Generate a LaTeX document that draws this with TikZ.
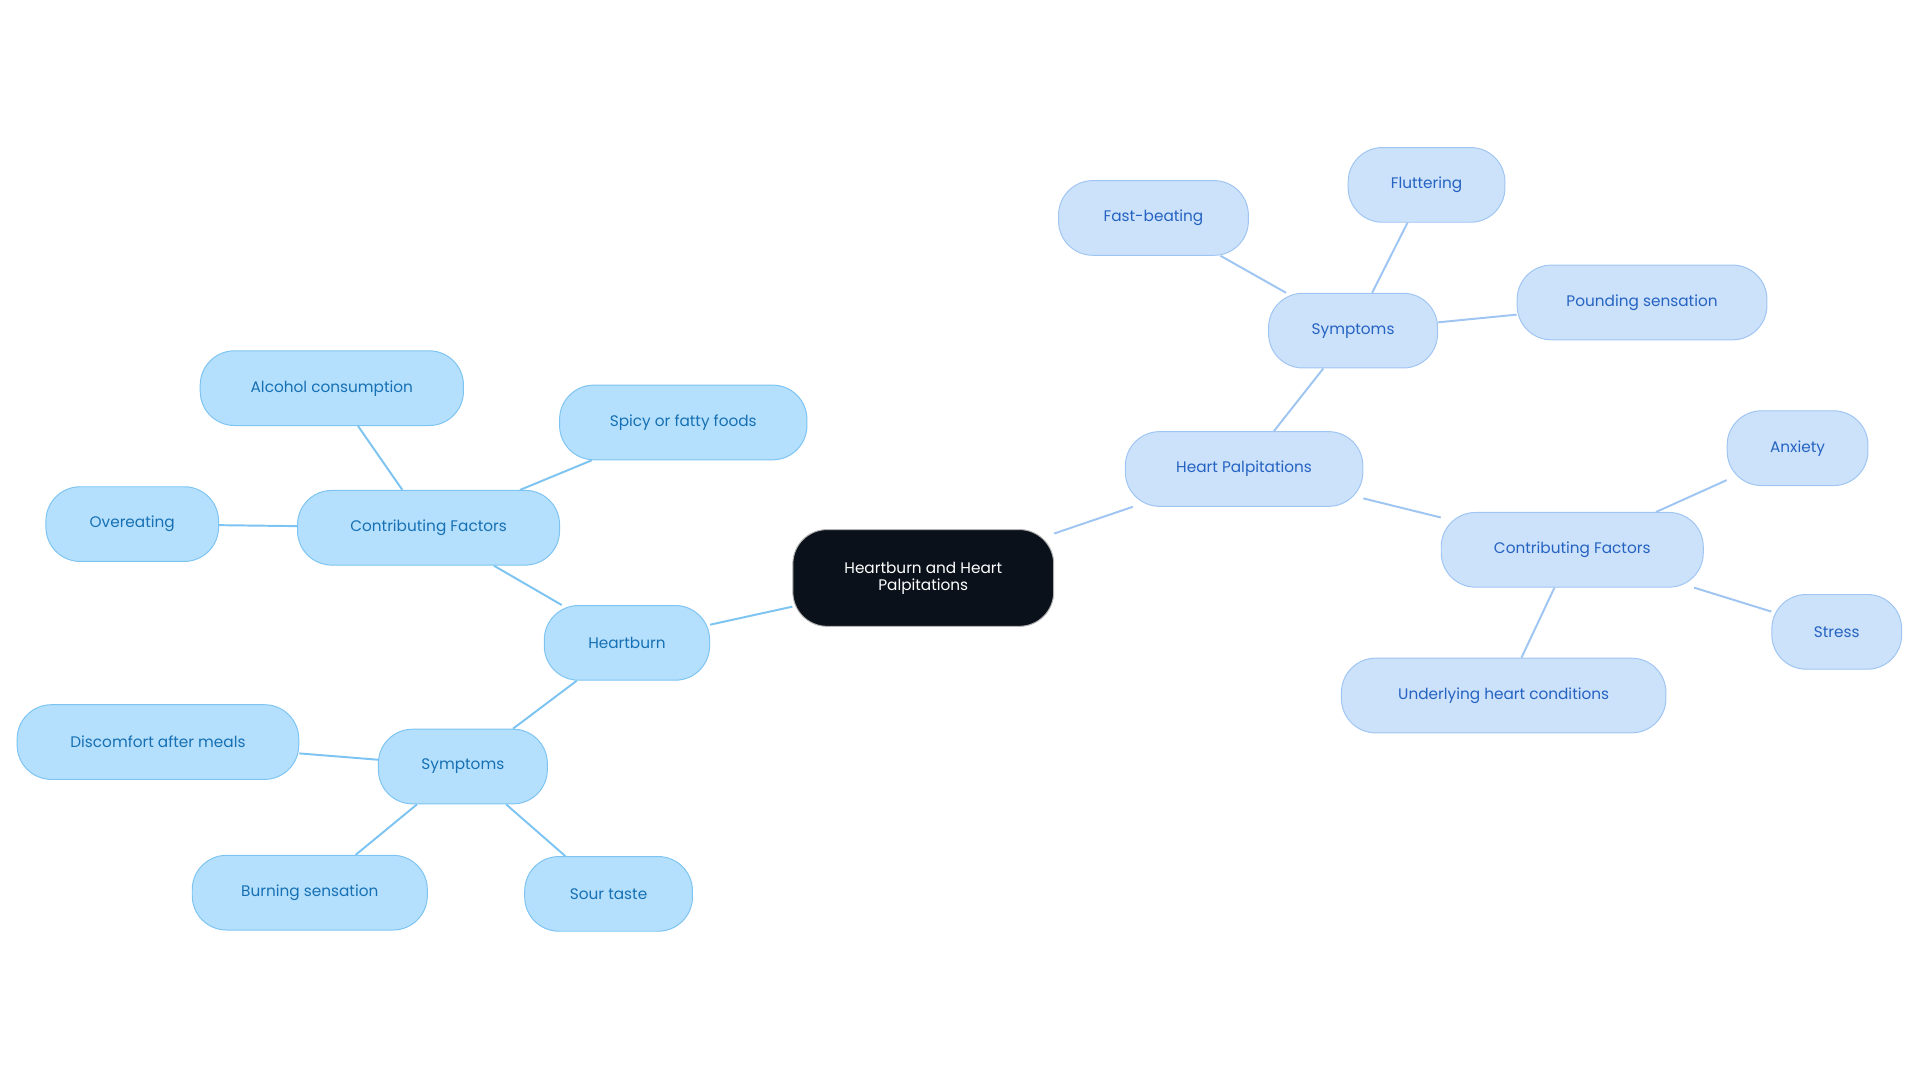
\documentclass[tikz,border=0pt]{standalone}
\usepackage{fontspec}
\setmainfont{Poppins}
\pgfdeclarelayer{bg}\pgfsetlayers{bg,main}
\definecolor{lf}{HTML}{B5E0FD}\definecolor{lb}{HTML}{7DC4F2}\definecolor{lt}{HTML}{1670B3}
\definecolor{rf}{HTML}{CCE1FA}\definecolor{rb}{HTML}{9FC5F2}\definecolor{rt}{HTML}{2563C2}
\definecolor{cf}{HTML}{0B111B}
\tikzset{
 base/.style={rounded corners=28pt,minimum height=61pt,inner xsep=4pt,font=\fontsize{12.5}{15}\selectfont,line width=0.8pt},
 lnode/.style={base,fill=lf,draw=lb,text=lt},
 rnode/.style={base,fill=rf,draw=rb,text=rt},
 cnode/.style={base,fill=cf,draw=gray!60,text=white,minimum height=79pt,minimum width=213pt,align=center,font=\fontsize{12.5}{14}\selectfont},
 le/.style={draw=lb,line width=1.6pt},
 re/.style={draw=rb,line width=1.6pt}}
\begin{document}
\begin{tikzpicture}[x=1pt,y=-1pt]
\useasboundingbox (0,0) rectangle (1568,884);
\node[cnode] (c) at (754,472) {Heartburn and Heart\\Palpitations};
\node[lnode,minimum width=135pt] (hb) at (512,525) {Heartburn};
\node[lnode,minimum width=214pt] (cfl) at (350,431) {Contributing Factors};
\node[lnode,minimum width=202pt] (sp) at (558,345) {Spicy or fatty foods};
\node[lnode,minimum width=215pt] (al) at (271,317) {Alcohol consumption};
\node[lnode,minimum width=141pt] (ov) at (108,428) {Overeating};
\node[lnode,minimum width=138pt] (syl) at (378,626) {Symptoms};
\node[lnode,minimum width=230pt] (di) at (129,606) {Discomfort after meals};
\node[lnode,minimum width=192pt] (bu) at (253,729) {Burning sensation};
\node[lnode,minimum width=137pt] (so) at (497,730) {Sour taste};
\node[rnode,minimum width=194pt] (hp) at (1016,383) {Heart Palpitations};
\node[rnode,minimum width=138pt] (syr) at (1105,270) {Symptoms};
\node[rnode,minimum width=155pt] (fa) at (942,178) {Fast-beating};
\node[rnode,minimum width=128pt] (fl) at (1165,151) {Fluttering};
\node[rnode,minimum width=204pt] (po) at (1341,247) {Pounding sensation};
\node[rnode,minimum width=214pt] (cfr) at (1284,449) {Contributing Factors};
\node[rnode,minimum width=115pt] (an) at (1468,366) {Anxiety};
\node[rnode,minimum width=106pt] (st) at (1500,516) {Stress};
\node[rnode,minimum width=265pt] (un) at (1228,568) {Underlying heart conditions};
\begin{pgfonlayer}{bg}
\draw[le] (c)--(hb) (hb)--(cfl) (cfl)--(sp) (cfl)--(al) (cfl)--(ov) (hb)--(syl) (syl)--(di) (syl)--(bu) (syl)--(so);
\draw[re] (c)--(hp) (hp)--(syr) (syr)--(fa) (syr)--(fl) (syr)--(po) (hp)--(cfr) (cfr)--(an) (cfr)--(st) (cfr)--(un);
\end{pgfonlayer}
\end{tikzpicture}
\end{document}
